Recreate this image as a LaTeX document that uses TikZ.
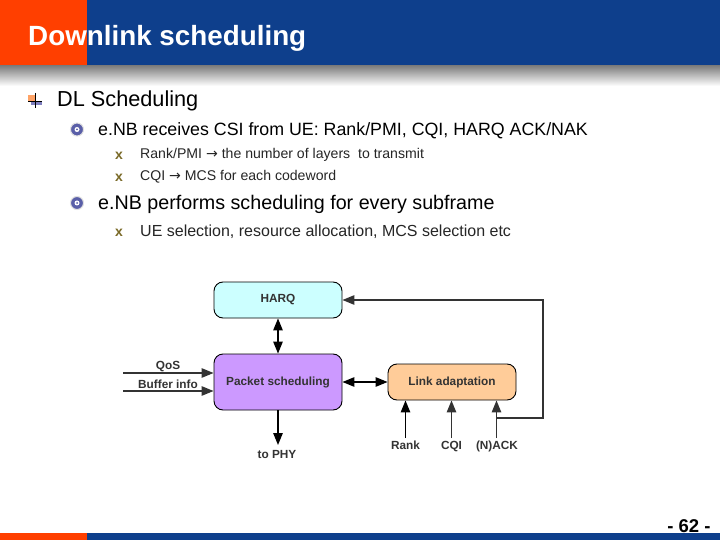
\documentclass[tikz,border=0pt]{standalone}
\usepackage{fontspec}
\setmainfont{Liberation Sans}
\newfontfamily\arrowfont{DejaVu Sans}
\usetikzlibrary{arrows.meta,positioning}
\definecolor{hblue}{HTML}{0E3F8C}
\definecolor{horange}{HTML}{FF3F00}
\definecolor{harqfill}{HTML}{CCFFFF}
\definecolor{pktfill}{HTML}{CC99FF}
\definecolor{linkfill}{HTML}{FFCC99}
\definecolor{flowgray}{HTML}{333333}
\definecolor{bulletblue}{HTML}{5A5FA8}
\definecolor{crossgold}{HTML}{7A6A28}
\tikzset{
 x=1bp,y=-1bp,
 block/.style={draw=black,line width=0.9pt,rounded corners=9bp,inner sep=0pt,font=\bfseries\fontsize{11.8bp}{13bp}\selectfont,text=flowgray},
 flow/.style={draw=flowgray,line width=1.3pt,-{Triangle[length=12bp,width=9.5bp]}},
 flowboth/.style={draw=black,line width=1.3pt,{Triangle[length=12bp,width=9.5bp]}-{Triangle[length=12bp,width=9.5bp]}},
 flowlabel/.style={anchor=base,font=\bfseries\fontsize{11.8bp}{13bp}\selectfont,text=flowgray,inner sep=0pt},
 levelone/.style={anchor=west,inner sep=0pt,font=\fontsize{21.7bp}{24bp}\selectfont},
 leveltwo/.style={anchor=west,inner sep=0pt,font=\fontsize{17.8bp}{20bp}\selectfont},
 levelthree/.style={anchor=west,inner sep=0pt,font=\fontsize{14.1bp}{16bp}\selectfont,text=black!85},
 spiral/.style={circle,minimum size=13bp,inner sep=0pt,fill=bulletblue,draw=black!12,line width=1pt},
 crossmark/.style={inner sep=0pt,font=\bfseries\fontsize{14bp}{14bp}\selectfont,text=crossgold},
}
\begin{document}
\begin{tikzpicture}
\useasboundingbox (0,0) rectangle (720,540);
\fill[white] (0,0) rectangle (720,540);
% header
\fill[hblue] (87,0) rectangle (720,66);
\fill[horange] (0,0) rectangle (87,66);
\shade[top color=black!50,bottom color=white] (0,66) rectangle (720,86);
\node[anchor=west,inner sep=0pt,text=white,font=\bfseries\fontsize{27.8bp}{30bp}\selectfont] (title) at (28,38) {Downlink scheduling};
% footer
\fill[hblue] (87,533) rectangle (720,540);
\fill[horange] (0,533) rectangle (87,540);
\node[inner sep=0pt,font=\bfseries\fontsize{18.5bp}{20bp}\selectfont] (page) at (689,526) {- 62 -};
% level 1
\fill[red!60!yellow!60] (28,95) rectangle (35,102);
\fill[blue!50!black!50] (31,101) rectangle (42,105);
\draw[black,line width=0.8pt] (35,93) -- (35,108) (28,101) -- (42,101);
\node[levelone] (l1) at (57,100.5) {DL Scheduling};
% level 2
\node[spiral] (b1) at (77,129.5) {};
\fill[white] (b1.center) circle (2.5bp);
\fill[bulletblue] (b1.center) circle (1bp);
\node[leveltwo] (l2a) at (98,130.5) {e.NB receives CSI from UE: Rank/PMI, CQI, HARQ ACK/NAK};
\node[crossmark] (c1) at (119,156) {x};
\node[levelthree] (l3a) at (140,155) {Rank/PMI {\arrowfont→} the number of layers\ \ to transmit};
\node[crossmark] (c2) at (119,177.5) {x};
\node[levelthree] (l3b) at (140,176.5) {CQI {\arrowfont→} MCS for each codeword};
\node[spiral] (b2) at (77,203) {};
\fill[white] (b2.center) circle (2.5bp);
\fill[bulletblue] (b2.center) circle (1bp);
\node[levelone,font=\fontsize{19.7bp}{22bp}\selectfont] (l2b) at (98,204) {e.NB performs scheduling for every subframe};
\node[crossmark] (c3) at (119,232.5) {x};
\node[levelthree,font=\fontsize{16bp}{18bp}\selectfont] (l3c) at (140,231.5) {UE selection, resource allocation, MCS selection etc};
% diagram
\node[block,fill=harqfill,minimum width=128bp,minimum height=36bp] (harq) at (278,300) {HARQ};
\node[block,fill=pktfill,minimum width=128bp,minimum height=56bp] (pkt) at (278,382) {Packet scheduling};
\node[block,fill=linkfill,minimum width=128bp,minimum height=36bp] (link) at (452,382) {Link adaptation};
\node[flowlabel] (qos) at (168,369.5) {QoS};
\node[flowlabel] (buf) at (168,388) {Buffer info};
\node[flowlabel] (phy) at (277,458) {to PHY};
\node[flowlabel] (rank) at (405.5,449) {Rank};
\node[flowlabel] (cqi) at (451.5,449) {CQI};
\node[flowlabel] (nack) at (497,449) {(N)ACK};
\coordinate (q0) at (123,373);
\coordinate (b0) at (123,391);
\coordinate (qe) at (pkt.west |- q0);
\coordinate (be) at (pkt.west |- b0);
\coordinate (phye) at (278,445);
\coordinate (r0) at (405.5,438);
\coordinate (c0) at (451.5,438);
\coordinate (n0) at (496.5,438);
\coordinate (nj) at (496.5,418);
\coordinate (nc) at (543,418);
\coordinate (nt) at (543,300);
\draw[flow] (q0) -- (qe);
\draw[flow] (b0) -- (be);
\draw[flowboth] (harq) -- (pkt);
\draw[flowboth] (pkt) -- (link);
\draw[flow,draw=black] (pkt) -- (phye);
\draw[flow,draw=black] (r0) -- (r0 |- link.south);
\draw[flow] (c0) -- (c0 |- link.south);
\draw[flow] (n0) -- (n0 |- link.south);
\draw[flow] (nj) -- (nc) -- (nt) -- (harq.east);
\end{tikzpicture}
\end{document}
